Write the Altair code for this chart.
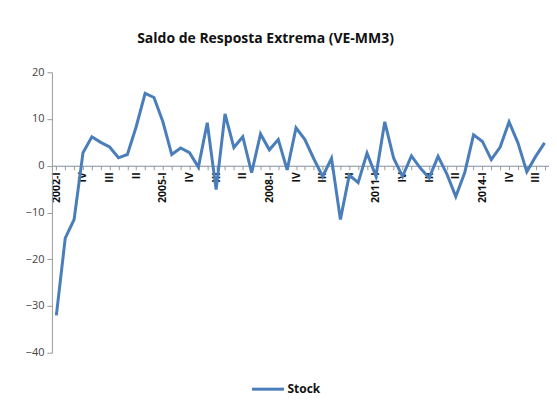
import json
import altair as alt
import pandas as pd

years = list(range(2002, 2016))
quarters = ["I", "II", "III", "IV"]
periods = [f"{y}-{q}" for y in years for q in quarters]

stock = [
    -32, -15.5, -11.5, 2.8, 6.2, 5.0, 4.0, 1.7, 2.4, 8.4,
    15.5, 14.6, 9.4, 2.4, 3.8, 2.8, -0.3, 9.2, -5.1, 11.1,
    3.9, 6.2, -1.5, 6.8, 3.4, 5.6, -0.9, 8.1, 5.6, 1.5,
    -2.3, 1.6, -11.5, -2.0, -3.6, 2.7, -2.2, 9.4, 1.6, -2.3,
    2.1, -0.5, -2.6, 2.0, -1.8, -6.6, -1.5, 6.6, 5.2, 1.3,
    4.0, 9.4, 4.9, -1.3, 2.0, 4.9,
]

x_labels = ["2002-I", "IV", "III", "II", "2005-I", "IV", "III", "II",
            "2008-I", "IV", "III", "II", "2011-I", "IV", "III", "II",
            "2014-I", "IV", "III"]

df = pd.DataFrame({
    "idx": list(range(len(stock))),
    "period": periods[:len(stock)],
    "value": stock,
    "series": ["Stock"] * len(stock),
})

W, H = 498, 281
zero_from_bottom = H * 40 / 60

label_expr = (
    "datum.value % 3 == 0 ? " + json.dumps(x_labels) + "[datum.value / 3] : ''"
)

chart = alt.Chart(df).mark_line(strokeWidth=3).encode(
    x=alt.X(
        "idx:Q",
        scale=alt.Scale(domain=[-0.5, len(stock) - 0.5], nice=False, zero=False),
        axis=alt.Axis(
            title=None,
            values=list(range(len(stock))),
            labelExpr=label_expr,
            labelAngle=270,
            labelFont="Open Sans",
            labelFontWeight="bold",
            labelFontSize=10.5,
            labelColor="#111111",
            labelPadding=2,
            labelOverlap=False,
            labelFlush=False,
            labelBound=False,
            tickSize=4,
            tickColor="#9a9a9a",
            domainColor="#7f8fa6",
            domainWidth=1,
            grid=False,
            offset=-zero_from_bottom,
        ),
    ),
    y=alt.Y(
        "value:Q",
        scale=alt.Scale(domain=[-40, 20], nice=False),
        axis=alt.Axis(
            title=None,
            values=[-40, -30, -20, -10, 0, 10, 20],
            labelFont="Open Sans",
            labelFontSize=11,
            labelColor="#444444",
            labelPadding=3,
            tickSize=5,
            tickColor="#9a9a9a",
            domainColor="#9a9a9a",
            grid=False,
        ),
    ),
    color=alt.Color(
        "series:N",
        scale=alt.Scale(range=["#4A7EBB"]),
        legend=alt.Legend(
            title=None,
            orient="none",
            legendX=199,
            legendY=300,
            symbolType="stroke",
            symbolSize=1024,
            symbolStrokeWidth=3,
            labelFont="Open Sans",
            labelFontWeight="bold",
            labelFontSize=12,
            labelColor="#111111",
            labelOffset=2,
            padding=0,
        ),
    ),
).properties(
    width=W,
    height=H,
    title=alt.TitleParams(
        "Saldo de Resposta Extrema (VE-MM3)",
        font="Open Sans",
        fontSize=14,
        fontWeight="bold",
        color="#111111",
        anchor="middle",
        dx=-35,
        offset=20,
    ),
    autosize=alt.AutoSizeParams(type="none"),
    padding={"left": 44, "top": 64, "right": 0, "bottom": 55},
).configure_view(stroke=None)

chart.save("out.html", embed_options={"renderer": "svg", "actions": False})
